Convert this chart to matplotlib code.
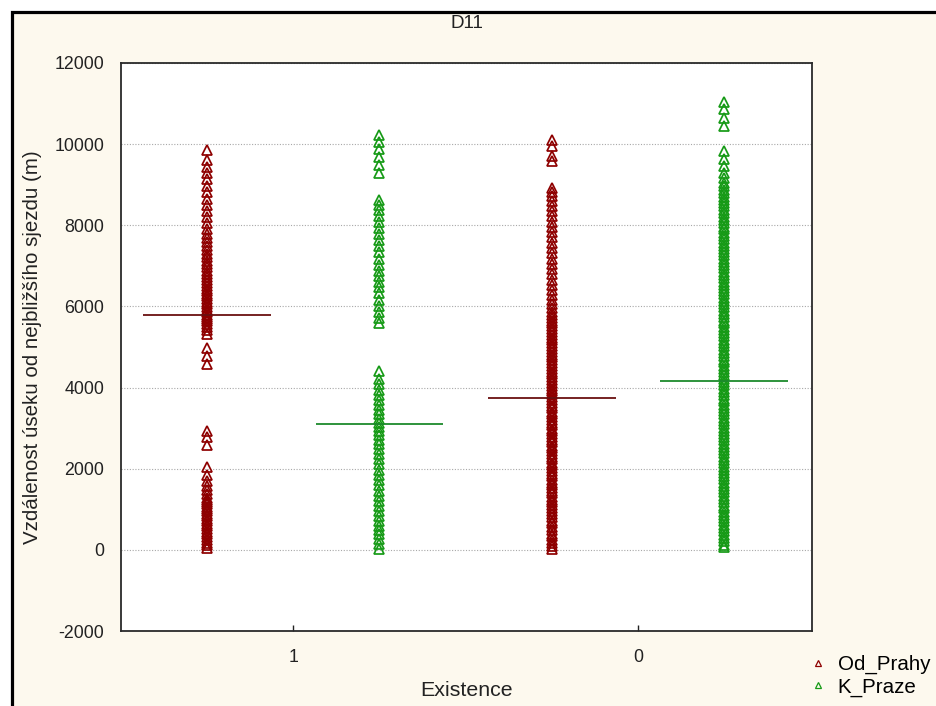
import matplotlib
matplotlib.use('Agg')
import matplotlib.pyplot as plt
import numpy as np
from matplotlib.lines import Line2D
from matplotlib.patches import Rectangle

plt.rcParams['font.family'] = ['Liberation Sans', 'DejaVu Sans']

# ---------------- data ----------------
categories = ['1', '0']
series_names = ['Od_Prahy', 'K_Praze']

od_prahy_1 = [40, 110, 180, 240, 320, 380, 430, 520, 590, 640, 700, 760, 830, 880,
              950, 1010, 1060, 1120, 1170, 1230, 1290, 1380, 1470, 1580, 1690, 1850,
              2050, 2580, 2780, 2920,
              4580, 4780, 4970, 5330, 5420, 5500, 5570, 5630, 5690, 5740, 5800, 5860,
              5920, 5990, 6050, 6120, 6180, 6250, 6310, 6380, 6440, 6510, 6580, 6650,
              6720, 6800, 6880, 6960, 7040, 7120, 7210, 7300, 7390, 7480, 7580, 7680,
              7790, 7900, 8050, 8200, 8350, 8500, 8660, 8820, 8980, 9130, 9290, 9440,
              9600, 9850]

k_praze_1 = [30, 140, 260, 380, 490, 600, 720, 830, 950, 1080, 1200, 1330, 1460, 1590,
             1720, 1850, 1980, 2110, 2240, 2370, 2490, 2600, 2710, 2820, 2930, 3030,
             3130, 3230, 3340, 3450, 3570, 3690, 3810, 3940, 4080, 4220, 4400,
             5580, 5720, 5870, 6020, 6170, 6320, 6470, 6610, 6740, 6880, 7030, 7180,
             7330, 7480, 7630, 7780, 7930, 8080, 8230, 8380, 8500, 8620,
             9300, 9480, 9680, 9880, 10060, 10230]

od_prahy_0 = [10100, 9950, 9700, 9580,
              8920, 8830, 8720, 8600, 8470, 8350, 8220, 8090, 7960, 7830, 7700, 7570,
              7440, 7310, 7180, 7050, 6920, 6790, 6660, 6530, 6400, 6280, 6160, 6050,
              5950,
              5870, 5800, 5720, 5650, 5590, 5510, 5440, 5380, 5300, 5230, 5170, 5090,
              5020, 4960, 4880, 4810, 4750, 4670, 4600, 4540, 4460, 4390, 4330, 4250,
              4180, 4120, 4040, 3970, 3910, 3830, 3760, 3700, 3620, 3550, 3490, 3410,
              3340, 3280, 3200, 3130, 3070, 2990, 2920, 2860, 2780, 2710, 2650, 2570,
              2500, 2440, 2360, 2290, 2230, 2150, 2080, 2020, 1940, 1870, 1810, 1730,
              1660, 1600, 1520, 1450, 1390, 1310, 1240, 1180, 1100, 1030, 970, 890,
              800, 720, 650, 560, 480, 400, 330, 250, 170, 90, 20]

k_praze_0 = [11050, 10860, 10650, 10450, 9820, 9640,
             9450, 9300, 9170, 9050, 8960, 8870, 8790, 8700, 8630, 8540, 8470, 8380,
             8300, 8210, 8140, 8060, 7970, 7900, 7810, 7740, 7660, 7570, 7500, 7420,
             7330, 7260, 7180, 7090, 7020, 6940, 6850, 6780, 6700, 6610, 6540, 6460,
             6370, 6300, 6220, 6130, 6060, 5980, 5890, 5820, 5740, 5650, 5580, 5500,
             5410, 5340, 5260, 5170, 5100, 5020, 4930, 4860, 4780, 4690, 4620, 4540,
             4450, 4380, 4300, 4210, 4140, 4060, 3970, 3900, 3820, 3730, 3660, 3580,
             3490, 3420, 3340, 3250, 3180, 3100, 3010, 2940, 2860, 2770, 2700, 2620,
             2530, 2460, 2380, 2290, 2220, 2140, 2050, 1980, 1900, 1810, 1740, 1660,
             1570, 1500, 1420, 1330, 1260, 1180, 1090, 1020, 940, 850, 780, 700,
             610, 540, 460, 370, 300, 220, 130, 60]

means_od_prahy = [5800, 3750]
means_k_praze = [3100, 4150]

title = 'D11'
x_label = 'Existence'
y_label = 'Vzdálenost úseku od nejbližšího sjezdu (m)'
y_ticks = [-2000, 0, 2000, 4000, 6000, 8000, 10000, 12000]

# ---------------- styling ----------------
col_od = '#8e0000'
col_k = '#169a16'
mean_od = '#6a1010'
mean_k = '#1c8a2c'
W, H = 936, 706
FS_TICK = 12.8
FS_LAB = 14.8

fig = plt.figure(figsize=(W / 100, H / 100), dpi=100, facecolor='white')
bg = Rectangle((11.5 / W, -0.05), 1.1, (H - 11.5) / H + 0.05,
               transform=fig.transFigure, facecolor='#fdf9ee',
               edgecolor='black', linewidth=2.3, zorder=-10)
fig.patches.append(bg)

ax = fig.add_axes([121 / W, 1 - 631 / H, (812 - 121) / W, (631 - 63) / H])
ax.set_facecolor('white')

series = {'Od_Prahy': [od_prahy_1, od_prahy_0], 'K_Praze': [k_praze_1, k_praze_0]}
means = {'Od_Prahy': means_od_prahy, 'K_Praze': means_k_praze}
colors = {'Od_Prahy': col_od, 'K_Praze': col_k}
mcolors = {'Od_Prahy': mean_od, 'K_Praze': mean_k}
offsets = {'Od_Prahy': -0.25, 'K_Praze': 0.25}

for name in series_names:
    for gi, vals in enumerate(series[name]):
        pos = gi + offsets[name]
        ax.plot(np.full(len(vals), pos), vals, ls='none', marker='^',
                mfc='none', mec=colors[name], ms=6.6, mew=1.25, zorder=3)
        ax.hlines(means[name][gi], pos - 0.185, pos + 0.185,
                  color=mcolors[name], lw=1.3, zorder=4)

ax.set_xlim(-0.5, 1.505)
ax.set_ylim(-2000, 12000)
ax.set_yticks(y_ticks)
ax.set_yticklabels([str(t) for t in y_ticks])
ax.set_xticks([0, 1])
ax.set_xticklabels(categories)
ax.yaxis.grid(True, color='#a8a8a8', linestyle=(0, (1, 1.5)), linewidth=0.8)
ax.set_axisbelow(True)
ax.tick_params(axis='y', length=0, pad=12, labelsize=FS_TICK, colors='#222222')
ax.tick_params(axis='x', direction='in', length=4, width=1, pad=13,
               labelsize=FS_TICK, colors='#222222')
for sp in ax.spines.values():
    sp.set_color('#2a2a2a')
    sp.set_linewidth(1.3)

ax.set_title(title, fontsize=FS_TICK + 0.8, color='#222222', y=1.047)
ax.set_xlabel(x_label, fontsize=FS_LAB + 0.6, color='#222222')
ax.set_ylabel(y_label, fontsize=FS_LAB, color='#222222')
ax.xaxis.set_label_coords(0.5, -0.088)
ax.yaxis.set_label_coords(-0.114, 0.5)

handles = [Line2D([], [], ls='none', marker='^', mfc='none', mec=colors[n],
                  ms=5, mew=0.9, label=n) for n in series_names]
fig.legend(handles=handles, loc='upper left', bbox_to_anchor=(811 / W, 1 - 655 / H),
           frameon=False, fontsize=FS_LAB, handlelength=0.7, handletextpad=0.6,
           labelspacing=0.15, borderpad=0, borderaxespad=0)

fig.savefig('out.png', dpi=100, facecolor=fig.get_facecolor())
